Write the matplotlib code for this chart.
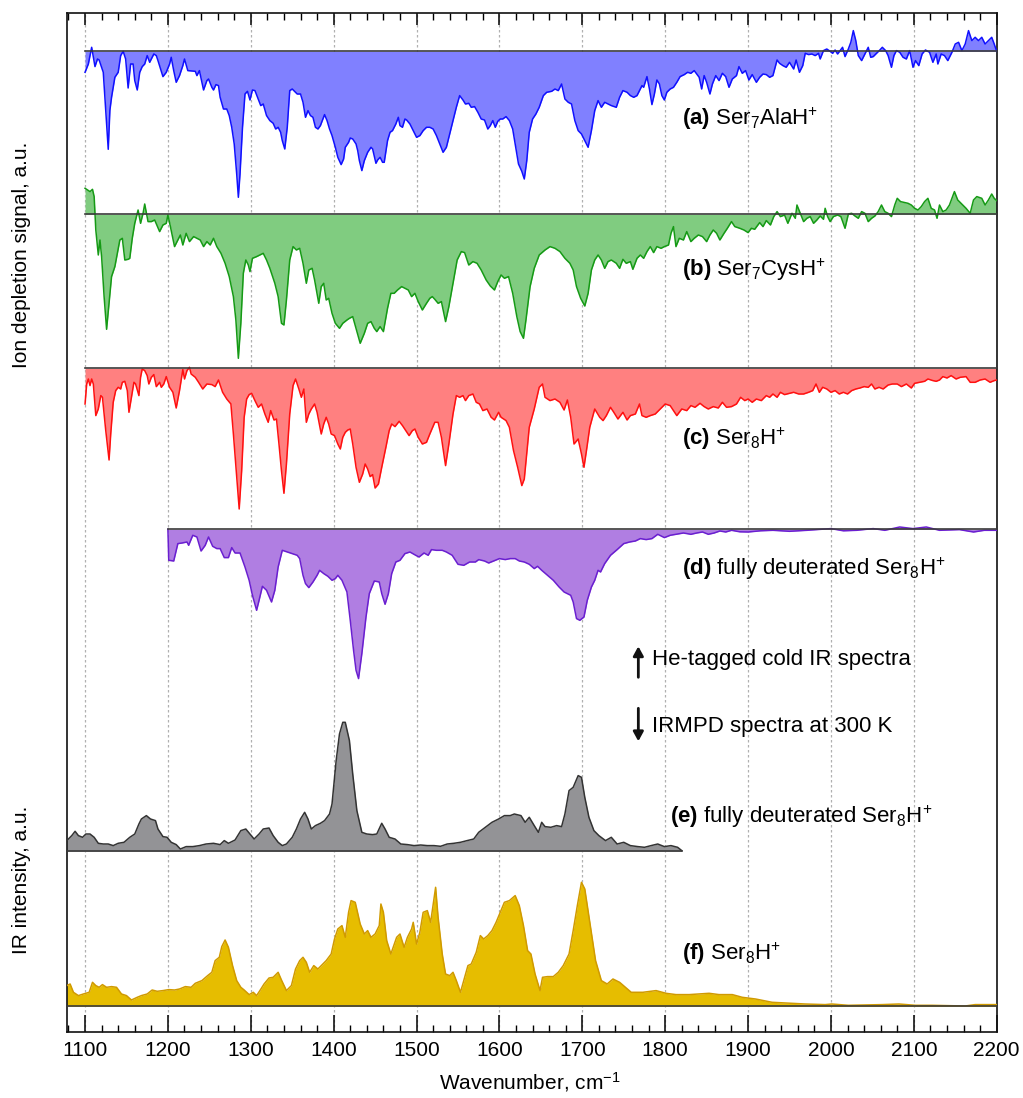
import matplotlib
matplotlib.use("Agg")
import matplotlib.pyplot as plt
from matplotlib.ticker import MultipleLocator

plt.rcParams['font.family'] = ['Liberation Sans', 'DejaVu Sans']
plt.rcParams['mathtext.fontset'] = 'custom'
plt.rcParams['mathtext.rm'] = 'Liberation Sans'
plt.rcParams['mathtext.it'] = 'Liberation Sans:italic'
plt.rcParams['mathtext.bf'] = 'Liberation Sans:bold'

# ---------------- data (depth / height in arbitrary units) ----------------
a_wn = [1100,1104,1108,1112,1115,1117,1120,1122,1125,1128,1130,1132,1136,1140,1143,1146,1149,1152,1155,1158,
        1160,1163,1166,1169,1172,1175,1178,1183,1186,1188,1194,1198,1202,1204,1207,1210,1214,1218,1220,1224,
        1233,1235,1238,1241,1243,1247,1249,1253,1255,1258,1261,1263,1267,1271,1274,1277,1280,1283,1285,1287,
        1290,1293,1296,1299,1302,1305,1309,1312,1315,1319,1323,1327,1330,1333,1336,1338,1341,1344,1347,1350,
        1356,1360,1363,1366,1369,1372,1375,1378,1381,1384,1389,1392,1395,1398,1402,1405,1409,1412,1414,1418,
        1420,1423,1427,1429,1431,1434,1437,1441,1445,1447,1451,1453,1456,1459,1461,1465,1468,1471,1475,1478,
        1480,1483,1486,1488,1492,1495,1500,1504,1508,1512,1516,1520,1524,1528,1532,1536,1540,1544,1548,1552,
        1556,1559,1563,1566,1570,1574,1578,1582,1586,1589,1592,1595,1598,1601,1604,1608,1612,1616,1619,1623,
        1627,1630,1633,1636,1640,1644,1648,1653,1657,1663,1667,1671,1675,1679,1683,1687,1691,1695,1699,1703,
        1707,1711,1715,1719,1723,1727,1731,1735,1741,1745,1749,1754,1758,1762,1766,1769,1772,1774,1778,1781,
        1784,1787,1790,1793,1796,1799,1802,1806,1810,1814,1818,1823,1827,1831,1835,1838,1841,1844,1847,1850,
        1854,1857,1861,1865,1869,1873,1877,1881,1886,1889,1893,1897,1901,1905,1910,1914,1918,1922,1926,1930,
        1935,1938,1942,1946,1950,1955,1958,1962,1966,1969,1973,1977,1981,1985,1987,1991,1995,1999,2002,2005,
        2008,2011,2014,2017,2021,2024,2027,2030,2033,2037,2041,2045,2048,2051,2055,2059,2062,2066,2069,2073,
        2076,2079,2083,2087,2091,2095,2099,2102,2106,2110,2114,2119,2123,2127,2129,2133,2137,2141,2146,2150,
        2154,2158,2162,2166,2170,2174,2178,2182,2186,2190,2194,2197,2200]
a_dep = [21,12.7,-4,15.3,7.7,8.7,16,21,59,98,59,46,26,21,4.3,0,7.7,36.7,12.7,12.7,
         29.3,38.7,21,15.3,12.7,4.3,11,2.7,4.3,9.3,25.3,21,12.7,6,19.3,31,24.3,14.3,7.7,19.3,
         20,24.3,19.3,31,38.7,29.3,27.7,36,38.7,33.3,34.3,46,57.7,57.7,64.3,76,92.7,122.7,146,122.7,
         76,42.7,40,48.7,38.7,39.3,47.7,54.3,52.7,64.3,69.3,72,77.7,76,81,89.3,97.7,76,39.3,37.7,
         42.7,42.7,51,66,59.3,64.3,66,76,77.7,74.3,63.3,69.3,77.7,84.3,96,106,113.3,107.7,96,91,
         86.7,87.7,92.7,99.3,109.3,119.3,109.3,101,96,97.7,112,108.7,106,111,111,89.3,81,79.3,72.7,66,
         74.3,76,67.7,68.7,72.7,77.7,86,84.3,79.3,76,76,77.7,84.3,92.7,101,96,82.7,69.3,56,44.3,
         48.7,52.7,52,56,55.3,61,67.7,68.7,77.7,74.3,69.3,76,70,67.7,67.7,65.3,69.3,77.7,92.7,112.7,
         120,127.7,109.3,81,67.7,62.7,56,44.3,41,40,37.7,39.3,32.7,47.7,51,52.7,69.3,79.3,82.7,89.3,
         96,79.3,59.3,49.3,56,51,52.7,54.3,56,46,39.3,41,44.3,46,44.3,39.3,34.3,36,25.3,37.7,
         53.3,42.7,28.7,32.7,44.3,48.7,41,37.7,36,31,25.3,23.3,21,22,19.3,22.7,26,37.7,24.3,31,
         42.7,32.7,24.3,29.3,22,25.3,36,27.7,24.3,15.3,22,19.3,28.7,23.3,31,26,22.7,23.3,26,24.3,
         8.7,12,14.3,16,11,17.7,8.7,21,14.3,2,3.3,2.7,4.3,2,7.7,-0.7,-2.3,0,2,-1.3,
         2.7,-0.7,-4,5.3,-2.3,-9,-20.7,-10.7,4.3,9.3,2.7,-4,6,5.3,2,-1.3,-4,-0.7,4.3,16,
         4.3,-0.7,1,6,7.7,-0.7,16,9.3,14.3,2.7,-1.3,1,11,2.7,12.7,2.7,4.3,9.3,1,-7.3,
         -9,-0.7,-7.3,-20.7,-10.7,-14,-10.7,-14,-7.3,-10.7,-14,-7.3,0]

b_wn = [1100,1103,1106,1109,1111,1113,1116,1118,1120,1123,1126,1129,1132,1136,1139,1142,1145,1148,1152,1154,
        1157,1160,1164,1167,1170,1172,1176,1180,1184,1190,1194,1198,1200,1203,1208,1212,1215,1218,1222,1226,
        1231,1235,1239,1243,1247,1251,1255,1259,1264,1269,1274,1279,1282,1285,1288,1291,1294,1297,1299,1302,
        1307,1311,1315,1319,1323,1329,1333,1337,1340,1343,1347,1351,1355,1359,1363,1367,1370,1374,1377,1382,
        1385,1388,1391,1394,1398,1402,1407,1411,1416,1419,1423,1427,1432,1437,1441,1445,1449,1452,1456,1460,
        1465,1469,1473,1477,1482,1486,1490,1494,1498,1502,1507,1512,1516,1519,1522,1526,1530,1535,1539,1544,
        1549,1554,1558,1563,1568,1573,1578,1584,1589,1594,1598,1602,1606,1611,1616,1621,1625,1629,1632,1637,
        1642,1648,1655,1661,1667,1673,1679,1685,1689,1693,1698,1703,1707,1711,1715,1719,1723,1727,1731,1735,
        1741,1745,1749,1753,1758,1761,1766,1770,1774,1778,1782,1786,1790,1795,1799,1804,1807,1810,1813,1817,
        1822,1826,1831,1835,1840,1845,1850,1854,1858,1862,1866,1871,1875,1880,1884,1890,1895,1900,1904,1908,
        1914,1918,1922,1927,1931,1935,1939,1944,1948,1953,1957,1959,1963,1967,1971,1975,1979,1983,1987,1991,
        1993,1996,1999,2003,2008,2012,2017,2021,2025,2029,2033,2037,2041,2045,2049,2053,2057,2061,2065,2069,
        2073,2077,2080,2084,2089,2093,2097,2101,2105,2109,2113,2117,2121,2125,2128,2131,2135,2139,2143,2149,
        2153,2157,2163,2168,2172,2176,2182,2186,2190,2194,2197,2200]
b_dep = [-26,-24.3,-22.7,-25,-17.7,15.7,40.7,25.7,42.3,82.3,115,89,62.3,52.3,39,25.7,24,45.7,45,44,
         24,9,-4.3,9,-1,-10.3,7.3,7.3,5.7,17.3,10.7,9,0.7,12.3,32.3,25.7,20.7,30.7,19,27.3,
         22.3,24,25.7,32.3,27.3,30.7,24,32.3,39,49,62.3,82.3,105.7,144,109,59,45.7,50.7,57.3,44,
         42.3,40.7,39,45.7,54,69,82.3,109,110.7,85.7,45.7,32.3,35.7,34,49,69,55.7,54,65.7,89,
         72.3,69,85.7,84,99,109,114,109,105.7,104,102.3,114,129,119,109,107.3,114,117.3,112.3,117.3,
         94,79,79,75.7,72.3,74,75.7,82.3,79,87.3,95.7,89,84,82.3,85,89,87.3,107.3,92.3,69,
         45.7,37.3,38.3,50.7,47.3,49,55.7,65.7,71.7,75.7,67.3,60.7,64,62.3,79,102.3,117.3,124,105.7,72.3,
         54,40.7,35.7,32.3,34,37.3,44,49,55.7,72.3,84,91.7,79,55.7,45.7,40.7,45.7,54,47.3,45.7,
         49,54,45,49,47.3,55,44,40.7,44,37.3,32.3,38.3,32.3,34,32.3,30.7,19,12.3,32.3,24,
         25.7,17.3,27.3,24,20.7,22.3,27.3,20.7,15.7,19,25.7,19,14,7.3,12.3,14,15.7,18.3,14,15,
         8.3,12.3,6.3,10.7,2.3,-2.7,2.3,0.7,9,-1,4,-9.3,-1,7.3,4,2.3,9,5.7,1.7,5,
         -6,2.3,7.3,2.3,0.7,2.3,14,-0.3,-1,1.7,4,-2.7,-1,7.3,4,1.7,-2.7,-9.3,-2.7,-1,
         2.3,-9.3,-16,-12.7,-11.7,-11,-9.3,-6,-4.3,-7.7,-12.7,-16,-6,-4.3,4,-9.3,-2.7,-4.3,-9.3,-22.7,
         -14.3,-11,-6,-1,-14.3,-17.7,-16,-9.3,-14.3,-20.3,-16,-13.7]

c_wn = [1100,1102,1104,1106,1108,1110,1113,1116,1119,1121,1125,1129,1131,1134,1137,1140,1143,1145,1148,1151,
        1153,1156,1159,1161,1165,1167,1169,1172,1175,1177,1180,1183,1186,1190,1192,1195,1198,1202,1206,1210,
        1214,1218,1220,1223,1226,1228,1233,1237,1242,1247,1253,1257,1261,1266,1271,1276,1279,1283,1286,1289,
        1292,1295,1298,1301,1305,1309,1313,1317,1321,1324,1328,1331,1334,1337,1340,1343,1347,1351,1354,1358,
        1361,1364,1367,1370,1373,1377,1380,1385,1388,1391,1394,1397,1401,1405,1408,1411,1414,1417,1420,1423,
        1427,1431,1435,1438,1441,1444,1447,1450,1454,1458,1463,1467,1470,1474,1479,1483,1487,1491,1495,1498,
        1502,1507,1512,1516,1522,1526,1530,1535,1539,1544,1548,1552,1556,1559,1563,1568,1572,1576,1580,1585,
        1590,1594,1599,1602,1608,1612,1617,1622,1627,1630,1636,1642,1648,1652,1655,1661,1667,1673,1678,1682,
        1686,1690,1695,1699,1702,1705,1709,1715,1721,1725,1729,1734,1738,1743,1749,1754,1758,1764,1769,1772,
        1777,1782,1788,1794,1800,1806,1810,1814,1820,1826,1831,1836,1842,1847,1852,1858,1864,1869,1874,1880,
        1886,1891,1896,1900,1905,1910,1916,1922,1926,1930,1935,1939,1944,1950,1955,1961,1967,1973,1978,1982,
        1986,1990,1995,2000,2005,2010,2015,2020,2025,2030,2035,2040,2045,2049,2053,2058,2063,2069,2074,2080,
        2085,2091,2097,2101,2107,2113,2117,2123,2127,2131,2135,2140,2145,2151,2156,2163,2168,2174,2180,2186,
        2192,2197,2200]
c_dep = [35.7,15.7,10.7,17.3,10.7,15.7,47.3,40.7,27.3,29,62.3,91.7,65.7,34,22.3,19,20.7,14,13,22.3,
         44,29,14,15.7,27.3,9,0.7,2.3,7.3,15.7,9,6.3,18.3,14,19,15.7,8.3,19,24,39.7,
         22.3,1.3,10.7,2.3,-1,5.7,9,14,20.7,15.7,16.3,18.3,11.7,24,30.7,35.7,65.7,109,140.7,102.3,
         49,30.7,26.3,25,32.3,39,35.7,45.7,54,42.3,51.7,50.7,75.7,102.3,125,95.7,45.7,17.3,10.7,20.7,
         29,20.7,54,45.7,40.7,35.7,44,65.7,55.7,49,55.7,65.7,67.3,75.7,80.7,69,64,61.7,60.7,75.7,
         99,114,105.7,95.7,100.7,108.3,106.3,119.7,115.7,99,79,62.3,55.7,58.3,53,57.3,62.3,67.3,62.3,60.7,
         69,75.7,74,65.7,54,54,69,97.3,75.7,45.7,27.3,29,27.3,32.3,27.3,25.7,34,35.7,42.3,40.7,
         49,51.7,44,49,52.3,59,82.3,99,117.3,110.7,59,40.7,19,15.7,29,32.3,30.7,34,41.7,31.7,
         49,75.7,70.7,85.7,99,82.3,59,40.7,49,52.3,47.3,39,44,50.7,44,51.7,47.3,45.7,35.7,47.3,
         49,47.3,45.7,40.7,35.7,37.3,42.3,47.3,40.7,42.3,37.3,39,35,38.3,40.7,38.3,39.7,34,39,38.3,
         35.7,29,32.3,30.7,34,30.7,32.3,27.3,29,25.7,29,24,26.3,25,24,25.7,25.7,24,22.3,15.7,
         24,19,20.7,24,22.3,25.7,24,25.7,22.3,20.7,19.7,18.3,19,15.7,20.7,19,20.7,16.7,15.7,15.7,
         18.3,15.7,19.7,15,14,13,10.7,12.3,13,11.7,8.3,9.7,7.3,10.7,9,8.3,14,14,11.7,10.7,
         14,12.3,11.7]

d_wn = [1200,1201,1207,1210,1212,1217,1223,1225,1230,1235,1240,1245,1249,1254,1259,1263,1268,1273,1277,1281,
        1287,1293,1298,1302,1307,1310,1314,1319,1325,1329,1333,1338,1344,1350,1356,1359,1363,1366,1370,1375,
        1380,1383,1388,1393,1398,1402,1405,1410,1416,1420,1424,1427,1430,1434,1439,1443,1449,1455,1458,1462,
        1466,1470,1475,1480,1486,1492,1499,1503,1509,1514,1518,1524,1531,1536,1543,1550,1557,1564,1571,1575,
        1582,1587,1593,1600,1607,1613,1619,1624,1630,1636,1642,1646,1651,1658,1665,1672,1678,1686,1689,1693,
        1697,1702,1706,1711,1715,1719,1722,1727,1734,1742,1750,1757,1764,1770,1777,1784,1791,1799,1806,1813,
        1822,1831,1838,1845,1852,1859,1866,1873,1880,1890,1900,1915,1930,1950,1971,2000,2015,2031,2051,2065,
        2083,2099,2115,2131,2155,2172,2185,2200]
d_dep = [0,31,31.7,21,14.3,13.7,12.7,16,6,7.7,21.7,16,7.7,17,19.3,19.3,28.3,28.3,18.3,23.7,
         23.7,37.7,51,66,81,71,57,61,72.7,61,37.7,21,22.7,24.3,26,29.3,46,54.3,58.3,52.7,
         46,41,44.3,47,51,49.3,46,51,62.7,91,121,141,149.3,124.3,87.7,64.3,51.7,52.7,64.3,75,
         64.3,44.3,32.7,31,24.3,22.7,26,27.7,23.7,26,20.3,21,21,22.7,26,35,36,32.7,32.7,30.3,
         31.7,33.7,31.7,29.3,30.3,29.3,29.3,31.7,32.7,35,39.3,37,41,46,51,57.7,62.7,66,72.7,89.3,
         91,87.7,71,57.7,51,41,42.7,34.3,26,20.3,14.3,12.7,11.7,9.3,10.3,9.3,5,8.3,6,5,
         3.7,5,3.7,2.7,5,3.7,1.7,2.7,1,2.5,2.7,1.5,1,2,1,-0.7,1.5,1,-0.7,1,
         -2.3,-0.7,-2.3,1,0.3,2.7,1,1]

e_wn = [1078,1084,1088,1092,1097,1101,1106,1111,1116,1122,1128,1134,1140,1147,1154,1160,1165,1168,1174,1179,
        1185,1188,1194,1199,1204,1210,1215,1222,1230,1238,1246,1255,1263,1268,1273,1281,1288,1294,1299,1304,
        1310,1315,1322,1327,1333,1338,1343,1350,1355,1360,1365,1369,1373,1378,1384,1389,1395,1398,1403,1407,
        1411,1414,1419,1423,1428,1434,1440,1447,1452,1458,1462,1467,1474,1481,1489,1497,1505,1513,1521,1529,
        1537,1545,1553,1561,1569,1575,1583,1591,1599,1606,1613,1618,1626,1631,1636,1642,1647,1651,1655,1662,
        1669,1675,1679,1684,1689,1695,1699,1703,1708,1714,1720,1728,1735,1742,1750,1758,1767,1775,1783,1791,
        1799,1807,1815,1820]
e_int = [10.7,15.7,20,15.7,14,17.3,17.3,14,8,7.3,7.3,5.7,8,9,14,17.3,27.3,32.3,35.7,32.3,
         30.7,22.3,14.7,14,9,6.7,2.3,4.7,4.7,5.7,7.3,8,6.7,10.7,8,11.3,20.7,22.3,17.3,12.3,
         17.3,22.3,23.3,15.7,9,5.7,7.3,14,22.3,32.3,39,32.3,22.3,25.7,28,30.7,37.3,47.3,90.7,117.3,
         129,129,110.7,77.3,40.7,19,17.3,16.7,17.3,28,22.3,14,12.3,7.3,6.7,5.7,6.3,5.7,5.7,5,
         7.3,8,9,10.7,12.3,19,24,29,32.3,35.7,35.7,37.3,35.7,29,34,25.7,19,29,24.7,24,
         25.7,24.7,37.3,60.7,64,75.7,74,54,34,20.7,15.7,10.7,14,7.3,9,5.7,4.7,4,5.7,7.3,
         4.7,5.7,4,0.7]

f_wn = [1078,1082,1086,1092,1098,1105,1109,1113,1117,1121,1126,1132,1138,1144,1150,1156,1163,1168,1175,1181,
        1187,1194,1201,1208,1214,1221,1228,1233,1241,1248,1253,1257,1262,1265,1269,1273,1278,1283,1288,1292,
        1298,1303,1307,1311,1316,1322,1327,1333,1337,1343,1349,1354,1359,1363,1367,1371,1376,1381,1387,1391,
        1397,1401,1405,1410,1414,1418,1421,1426,1432,1437,1441,1445,1450,1455,1457,1460,1464,1469,1476,1480,
        1485,1489,1494,1496,1500,1504,1508,1513,1517,1523,1526,1531,1535,1540,1544,1548,1553,1557,1562,1566,
        1572,1577,1581,1586,1591,1596,1601,1606,1612,1619,1624,1629,1634,1638,1643,1649,1652,1658,1665,1671,
        1677,1684,1689,1694,1699,1703,1710,1716,1723,1730,1737,1745,1759,1773,1789,1801,1813,1829,1841,1853,
        1865,1881,1893,1909,1929,1945,1969,1993,2001,2021,2041,2062,2082,2102,2122,2142,2162,2174,2200]
f_int = [20.7,22.3,14,10.7,12.3,14,24,20.7,19,21.7,19,19.7,19,12.3,10.7,6.3,9,10.7,12.3,16.3,
         15,15.7,16.7,16.3,17.3,19.7,19,23,25.7,30.7,34,45.7,49,59.7,66.3,59,40.7,25.7,19,16.3,
         11.7,14,10.7,15.7,22.3,28.3,29,34,26.3,15.7,20.7,37.3,45.7,49,44,34,40.7,37.3,42.3,45.7,
         52.3,67.3,77.3,80.7,69,94,105.7,104,82.3,72.3,75.7,69,72.3,80.7,102.3,94,65.7,52.3,69,72.3,
         59,69,77.3,84,62.3,74,94,95.7,84,119,89,52.3,32.3,30.7,34,25.7,14,25.7,40.7,42.3,
         54,70.7,67.3,70.7,75.7,84,94,104,105.7,110.7,100.7,80.7,55.7,52.3,32.3,15.7,29,29.7,29.7,34,
         40.7,52.3,75.7,100.7,124,117.3,79,45.7,25.7,22.3,27.3,24,14,14,15.7,13,11.7,11.7,12.3,13,
         11.7,11.7,9,7.3,4,3.3,2.3,1.7,2.3,1,1.3,1.7,2.3,1,1,0.7,0.3,1.7,1.7]

offsets = {'a': 981, 'b': 818, 'c': 664, 'd': 503, 'e': 181, 'f': 26}

labels = {
    'a': r'$\mathbf{(a)}$ Ser$_7$AlaH$^{+}$',
    'b': r'$\mathbf{(b)}$ Ser$_7$CysH$^{+}$',
    'c': r'$\mathbf{(c)}$ Ser$_8$H$^{+}$',
    'd': r'$\mathbf{(d)}$ fully deuterated Ser$_8$H$^{+}$',
    'e': r'$\mathbf{(e)}$ fully deuterated Ser$_8$H$^{+}$',
    'f': r'$\mathbf{(f)}$ Ser$_8$H$^{+}$',
}
label_pos = {'a': (1820, 907), 'b': (1820, 756), 'c': (1820, 587), 'd': (1820, 457),
             'e': (1806, 209), 'f': (1820, 72)}

xticks = [1100, 1200, 1300, 1400, 1500, 1600, 1700, 1800, 1900, 2000, 2100, 2200]

styles = {
    'a': dict(line='#1010ff', fill='#8080ff'),
    'b': dict(line='#159a15', fill='#80cc80'),
    'c': dict(line='#ff1010', fill='#ff8080'),
    'd': dict(line='#6a1fd0', fill='#b07ee2'),
    'e': dict(line='#333333', fill='#939396'),
    'f': dict(line='#d09a00', fill='#e6bd00'),
}

# ---------------- figure ----------------
W, H = 1023, 1098
fig = plt.figure(figsize=(W / 100, H / 100), dpi=100)
ax = fig.add_axes([67.3 / W, (H - 1032.3) / H, (996.7 - 67.3) / W, (1032.3 - 13.3) / H])
ax.set_xlim(1078.6, 2200)
ax.set_ylim(0, 1019)

for xv in xticks:
    ax.axvline(xv, color='#b0b0b0', lw=0.9, ls=(0, (2, 2)), zorder=0)

series = {
    'a': (a_wn, a_dep, -1), 'b': (b_wn, b_dep, -1), 'c': (c_wn, c_dep, -1),
    'd': (d_wn, d_dep, -1), 'e': (e_wn, e_int, 1), 'f': (f_wn, f_int, 1),
}
for k, (wn, val, sgn) in series.items():
    base = offsets[k]
    y = [base + sgn * v for v in val]
    st = styles[k]
    ax.fill_between(wn, base, y, color=st['fill'], lw=0, zorder=2)
    ax.plot(wn, y, color=st['line'], lw=1.1, zorder=3)
    ax.plot([wn[0], wn[-1]], [base, base], color='#3a3a3a', lw=1.2, zorder=4)
    ax.text(label_pos[k][0], label_pos[k][1], labels[k], fontsize=16,
            ha='left', va='baseline', zorder=5)

# arrows and annotations
arrow_kw = dict(arrowstyle='-|>,head_length=0.55,head_width=0.3', color='#111111', lw=2.0,
                shrinkA=0, shrinkB=0)
ax.annotate('', xy=(1767.6, 386), xytext=(1767.6, 355), arrowprops=arrow_kw)
ax.annotate('', xy=(1767.6, 291), xytext=(1767.6, 324), arrowprops=arrow_kw)
ax.text(1784, 367, 'He-tagged cold IR spectra', fontsize=16, ha='left', va='baseline')
ax.text(1784, 300.6, 'IRMPD spectra at 300 K', fontsize=16, ha='left', va='baseline')

# ticks
ax.set_yticks([])
ax.xaxis.set_major_locator(MultipleLocator(100))
ax.xaxis.set_minor_locator(MultipleLocator(20))
ax.set_xticks(xticks)
ax.set_xticklabels([str(t) for t in xticks])
ax.tick_params(axis='x', which='major', direction='in', length=12, width=1.1,
               labelsize=15, pad=6, top=False)
ax.tick_params(axis='x', which='minor', direction='in', length=5.3, width=1.0, top=False)
sec = ax.secondary_xaxis('top')
sec.xaxis.set_major_locator(MultipleLocator(100))
sec.xaxis.set_minor_locator(MultipleLocator(20))
sec.tick_params(axis='x', which='major', direction='in', length=8.4, width=1.1, labeltop=False)
sec.tick_params(axis='x', which='minor', direction='in', length=5.3, width=1.0)
sec.spines['top'].set_visible(False)
for s in ax.spines.values():
    s.set_linewidth(1.2)
    s.set_color('#111111')

fig.text(530 / W, 1 - 1082 / H, r'Wavenumber, cm$^{-1}$', fontsize=15, ha='center', va='center')
fig.text(22 / W, 1 - 255 / H, 'Ion depletion signal, a.u.', fontsize=15, rotation=90,
         ha='center', va='center')
fig.text(22 / W, 1 - 880 / H, 'IR intensity, a.u.', fontsize=15, rotation=90,
         ha='center', va='center')

fig.savefig('out.png', dpi=100)
